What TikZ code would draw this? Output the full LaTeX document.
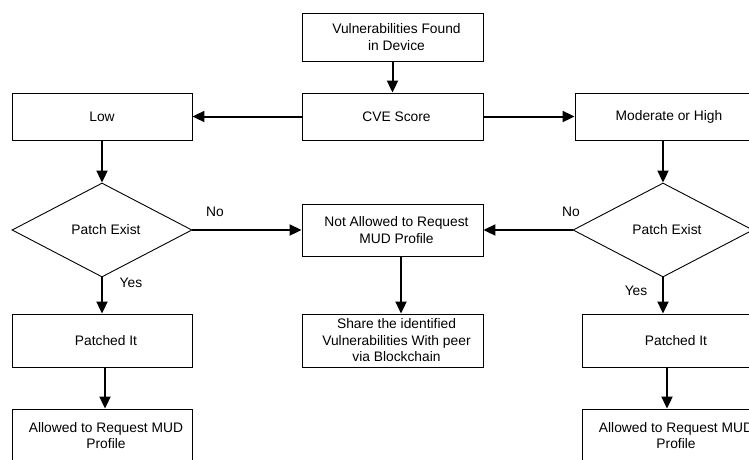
\documentclass[tikz,border=0pt]{standalone}
\usepackage{fontspec}
\setmainfont{Liberation Sans}
\usetikzlibrary{arrows.meta,shapes.geometric}

% labels sit a few points right of their box centres
\newcommand{\lpad}{\hspace*{8pt}}

\tikzset{
  flowbox/.style={draw=black, line width=0.9pt, rectangle, inner sep=2pt,
    align=center, font=\fontsize{13.8}{16.5}\selectfont},
  decision/.style={draw=black, line width=0.9pt, diamond, inner sep=0pt,
    minimum width=180pt, minimum height=94pt, aspect=1.9,
    font=\fontsize{13.8}{16.5}\selectfont},
  flowarrow/.style={line width=2pt, -{Triangle[length=12pt,width=11pt]}},
  edgelabel/.style={font=\fontsize{13.8}{16.5}\selectfont, inner sep=0pt}
}

\begin{document}
\begin{tikzpicture}[x=1pt,y=-1pt]
\useasboundingbox (0,0) rectangle (749,459);
\clip (0,0) rectangle (749,459);

% central column
\node[flowbox, minimum width=181pt, minimum height=48pt] (found) at (392.5,37) {\lpad Vulnerabilities Found\\\lpad in Device};
\node[flowbox, minimum width=181pt, minimum height=47pt] (cve) at (392.5,116.5) {\lpad CVE Score};
\node[flowbox, minimum width=181pt, minimum height=52pt] (deny) at (392.5,230) {\lpad Not Allowed to Request\\\lpad MUD Profile};
\node[flowbox, minimum width=181pt, minimum height=53pt] (share) at (392.5,340.5) {\lpad Share the identified\\\lpad Vulnerabilities With peer\\\lpad via Blockchain};

% left branch
\node[flowbox, minimum width=180pt, minimum height=47pt] (low) at (102,116.5) {Low};
\node[decision] (patchL) at (102,230) {\lpad Patch Exist};
\node[flowbox, minimum width=180pt, minimum height=53pt] (patchedL) at (102,340.5) {\lpad Patched It};
\node[flowbox, minimum width=180pt, minimum height=53pt] (allowL) at (102,435.5) {\lpad Allowed to Request MUD\\\lpad Profile};

% right branch
\node[flowbox, minimum width=180pt, minimum height=47pt] (high) at (665,116.5) {\lpad Moderate or High};
\node[decision] (patchR) at (663,230) {\lpad Patch Exist};
\node[flowbox, minimum width=180pt, minimum height=53pt] (patchedR) at (672,340.5) {\lpad Patched It};
\node[flowbox, minimum width=180pt, minimum height=53pt] (allowR) at (672,435.5) {\lpad Allowed to Request MUD\\\lpad Profile};

% connectors
\draw[flowarrow] (found) -- (cve);
\draw[flowarrow] (cve) -- (low);
\draw[flowarrow] (cve) -- (high);
\draw[flowarrow] (low) -- (patchL);
\draw[flowarrow] (patchL.east) -- (deny.west);
\draw[flowarrow] (patchR.west) -- (deny.east);
\draw[flowarrow] ([xshift=8.5pt]deny.south) -- ([xshift=8.5pt]share.north);
\draw[flowarrow] (patchL.south) -- (patchL.south |- patchedL.north);
\draw[flowarrow] ([xshift=3pt]patchedL.south) -- ([xshift=3pt]allowL.north);
\draw[flowarrow] (patchR.north |- high.south) -- (patchR.north);
\draw[flowarrow] (patchR.south) -- (patchR.south |- patchedR.north);
\draw[flowarrow] ([xshift=-5pt]patchedR.south) -- ([xshift=-5pt]allowR.north);

% branch labels
\node[edgelabel] (noL) at (215,212) {No};
\node[edgelabel] (noR) at (571,212) {No};
\node[edgelabel] (yesL) at (131,283) {Yes};
\node[edgelabel] (yesR) at (636,291) {Yes};
\end{tikzpicture}
\end{document}
